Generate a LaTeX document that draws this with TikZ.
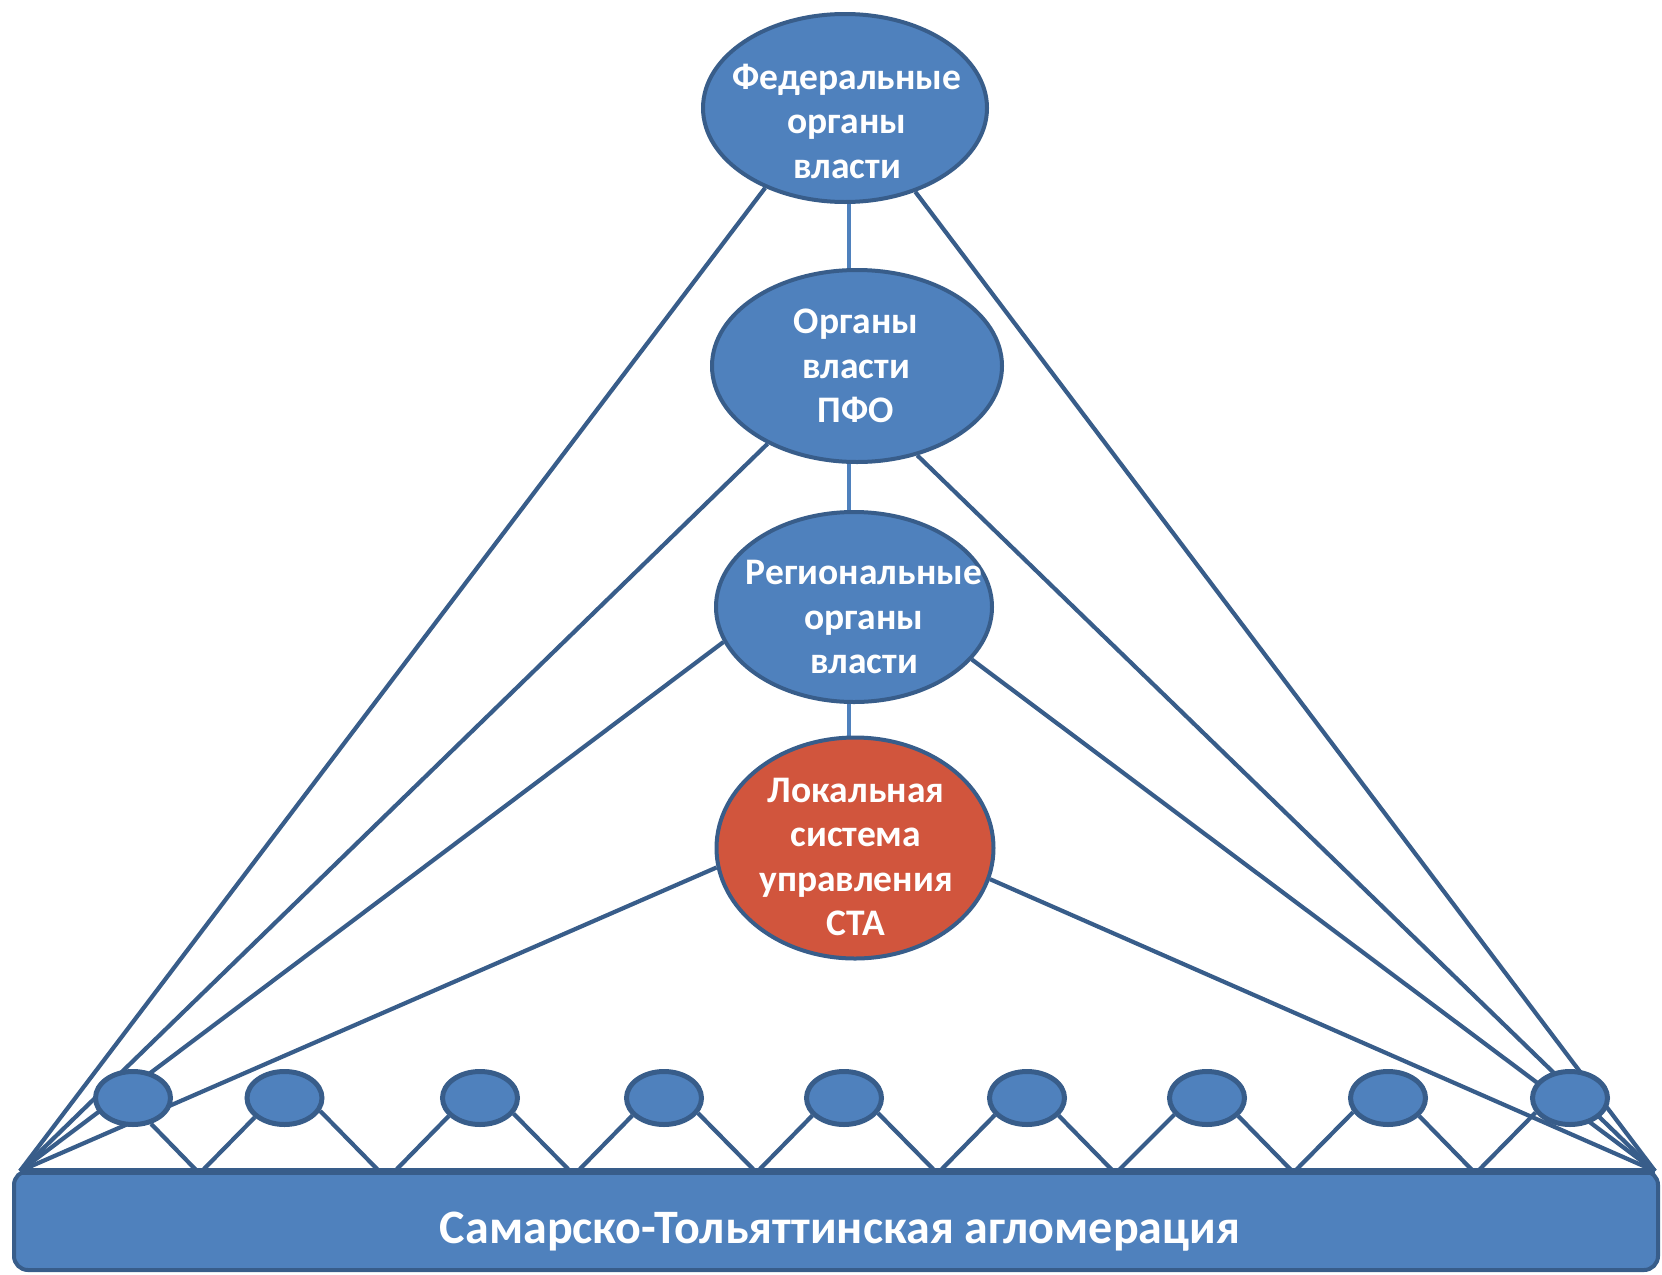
\documentclass[tikz,border=0pt]{standalone}
\usepackage{fontspec}
\setmainfont{Carlito}
\usetikzlibrary{shapes.geometric}
\definecolor{fillblue}{HTML}{4F81BD}
\definecolor{lineblue}{HTML}{385D8A}
\definecolor{redfill}{HTML}{D1553D}
\pgfdeclarelayer{bg}
\pgfsetlayers{bg,main}
\begin{document}
\begin{tikzpicture}[x=1pt,y=-1pt,
  big/.style={ellipse, draw=lineblue, line width=4pt, fill=fillblue, inner sep=0pt},
  small/.style={ellipse, draw=lineblue, line width=5pt, fill=fillblue, minimum width=75pt, minimum height=53pt, inner sep=0pt},
  conn/.style={draw=lineblue, line width=4.2pt},
  vconn/.style={draw=fillblue, line width=4.5pt},
  lbl/.style={text=white, font=\bfseries\fontsize{37.5}{44.5}\selectfont, align=center, inner sep=0pt}]
\useasboundingbox (0,0) rectangle (1662,1274);

% main ellipses
\node[big, minimum width=284pt, minimum height=188pt] (fed) at (845,108) {};
\node[big, minimum width=290pt, minimum height=192pt] (pfo) at (857,366) {};
\node[big, minimum width=276pt, minimum height=190pt] (reg) at (854,607) {};
\node[big, fill=redfill, minimum width=277pt, minimum height=221pt] (loc) at (855,848) {};

\node[lbl] (fedtext) at (847,121) {Федеральные\\органы\\власти};
\node[lbl] (pfotext) at (856,366) {Органы\\власти\\ПФО};
\node[lbl] (regtext) at (864,617) {Региональные\\органы\\власти};
\node[lbl] (loctext) at (856,857) {Локальная\\система\\управления\\СТА};

% agglomeration bar
\node[rectangle, draw=lineblue, fill=fillblue, line width=4pt, rounded corners=14pt,
      minimum width=1644pt, minimum height=99pt, inner sep=0pt] (agl) at (836,1220.5) {};
\coordinate (cl) at (20,1171);
\coordinate (cr) at (1655,1171);
\draw[lineblue, line width=7pt] (cl) -- (cr);
\node[text=white, font=\bfseries\fontsize{48}{56}\selectfont, inner sep=0pt] (agltext) at (840,1232) {Самарско-Тольяттинская агломерация};

% small ellipses
\foreach \i/\x in {1/133,2/284.5,3/480,4/664,5/844,6/1027,7/1207,8/1388,9/1570}
  \node[small] (e\i) at (\x,1098) {};

% leg end points on the bar
\foreach \n/\x in {b1r/197,b2l/202,b2r/379,b3l/395,b3r/570,b4l/578,b4r/755,b5l/758,b5r/935,b6l/940,b6r/1113,b7l/1118,b7r/1292,b8l/1295,b8r/1473,b9l/1478}
  \coordinate (\n) at (\x,1171);

\coordinate (ax) at (849,0);

\begin{pgfonlayer}{bg}
  % vertical chain
  \draw[vconn] (fed.south -| ax) -- (pfo.north -| ax);
  \draw[vconn] (pfo.south -| ax) -- (reg.north -| ax);
  \draw[vconn] (reg.south -| ax) -- (loc.north -| ax);
  % fans to the corners
  \draw[conn] (fed.225) -- (cl);
  \draw[conn] (fed.-50) -- (cr);
  \draw[conn] (pfo.221) -- (cl);
  \draw[conn] (pfo.-56) -- (cr);
  \draw[conn] (reg.195) -- (cl);
  \draw[conn] (reg.-24) -- (cr);
  \draw[conn] (loc.188) -- (cl);
  \draw[conn] (loc.-13) -- (cr);
  % legs
  \draw[conn] (e1.-55) -- (b1r);
  \draw[conn] (e2.213) -- (b2l);
  \draw[conn] (e2.-20) -- (b2r);
  \draw[conn] (e3.210) -- (b3l);
  \draw[conn] (e3.-25) -- (b3r);
  \draw[conn] (e4.209) -- (b4l);
  \draw[conn] (e4.-24) -- (b4r);
  \draw[conn] (e5.209) -- (b5l);
  \draw[conn] (e5.-24) -- (b5r);
  \draw[conn] (e6.208) -- (b6l);
  \draw[conn] (e6.-29) -- (b6r);
  \draw[conn] (e7.207) -- (b7l);
  \draw[conn] (e7.-30) -- (b7r);
  \draw[conn] (e8.202) -- (b8l);
  \draw[conn] (e8.-30) -- (b8r);
  \draw[conn] (e9.203) -- (b9l);
\end{pgfonlayer}
\end{tikzpicture}
\end{document}
